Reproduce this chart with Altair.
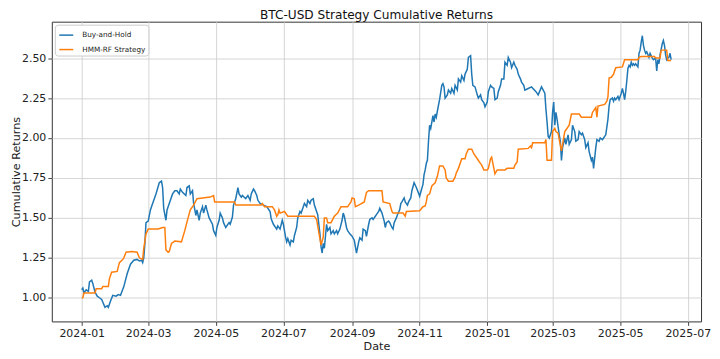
import altair as alt
import pandas as pd

bh_dates = [
    "2024-01-01","2024-01-02","2024-01-03","2024-01-05","2024-01-07","2024-01-08","2024-01-10","2024-01-11","2024-01-13","2024-01-15",
    "2024-01-17","2024-01-19","2024-01-22","2024-01-24","2024-01-25","2024-01-27","2024-01-29","2024-02-01","2024-02-03","2024-02-05",
    "2024-02-08","2024-02-11","2024-02-14","2024-02-17","2024-02-20","2024-02-22","2024-02-24","2024-02-25","2024-02-26","2024-02-27",
    "2024-02-28","2024-03-01","2024-03-03","2024-03-05","2024-03-08","2024-03-11","2024-03-13","2024-03-14","2024-03-15","2024-03-17",
    "2024-03-18","2024-03-20","2024-03-23","2024-03-25","2024-03-27","2024-03-29","2024-03-30","2024-04-01","2024-04-04","2024-04-05",
    "2024-04-07","2024-04-08","2024-04-10","2024-04-11","2024-04-13","2024-04-14","2024-04-16","2024-04-17","2024-04-19","2024-04-20",
    "2024-04-22","2024-04-23","2024-04-25","2024-04-28","2024-04-29","2024-05-01","2024-05-02","2024-05-04","2024-05-05","2024-05-07",
    "2024-05-08","2024-05-10","2024-05-13","2024-05-14","2024-05-16","2024-05-17","2024-05-19","2024-05-21","2024-05-22","2024-05-24",
    "2024-05-25","2024-05-28","2024-05-30","2024-06-01","2024-06-02","2024-06-04","2024-06-05","2024-06-07","2024-06-08","2024-06-10",
    "2024-06-13","2024-06-16","2024-06-19","2024-06-20","2024-06-22","2024-06-25","2024-06-26","2024-06-28","2024-06-30","2024-07-01",
    "2024-07-03","2024-07-04","2024-07-05","2024-07-07","2024-07-08","2024-07-10","2024-07-11","2024-07-13","2024-07-14","2024-07-16",
    "2024-07-17","2024-07-19","2024-07-20","2024-07-22","2024-07-23","2024-07-25","2024-07-26","2024-07-28","2024-07-29","2024-07-31",
    "2024-08-01","2024-08-03","2024-08-04","2024-08-05","2024-08-06","2024-08-07","2024-08-09","2024-08-10","2024-08-12","2024-08-13",
    "2024-08-15","2024-08-16","2024-08-18","2024-08-19","2024-08-21","2024-08-23","2024-08-24","2024-08-25","2024-08-27","2024-08-28",
    "2024-08-30","2024-09-01","2024-09-03","2024-09-05","2024-09-07","2024-09-08","2024-09-10","2024-09-11","2024-09-13","2024-09-14",
    "2024-09-16","2024-09-17","2024-09-19","2024-09-20","2024-09-22","2024-09-23","2024-09-25","2024-09-26","2024-09-28","2024-09-30",
    "2024-10-01","2024-10-02","2024-10-04","2024-10-05","2024-10-07","2024-10-08","2024-10-09","2024-10-11","2024-10-12","2024-10-14",
    "2024-10-15","2024-10-16","2024-10-18","2024-10-19","2024-10-21","2024-10-22","2024-10-24","2024-10-25","2024-10-27","2024-10-29",
    "2024-10-31","2024-11-01","2024-11-02","2024-11-04","2024-11-05","2024-11-06","2024-11-07","2024-11-08","2024-11-09","2024-11-10",
    "2024-11-11","2024-11-13","2024-11-14","2024-11-15","2024-11-16","2024-11-18","2024-11-19","2024-11-21","2024-11-22","2024-11-23",
    "2024-11-24","2024-11-26","2024-11-27","2024-11-29","2024-11-30","2024-12-02","2024-12-03","2024-12-05","2024-12-06","2024-12-08",
    "2024-12-09","2024-12-11","2024-12-12","2024-12-14","2024-12-15","2024-12-17","2024-12-18","2024-12-19","2024-12-21","2024-12-23",
    "2024-12-24","2024-12-26","2024-12-27","2024-12-29","2024-12-30","2025-01-01","2025-01-02","2025-01-04","2025-01-05","2025-01-07",
    "2025-01-08","2025-01-10","2025-01-11","2025-01-13","2025-01-14","2025-01-16","2025-01-17","2025-01-19","2025-01-20","2025-01-22",
    "2025-01-23","2025-01-25","2025-01-26","2025-01-28","2025-01-29","2025-01-31","2025-02-01","2025-02-03","2025-02-04","2025-02-07",
    "2025-02-10","2025-02-14","2025-02-16","2025-02-19","2025-02-22","2025-02-23","2025-02-24","2025-02-25","2025-02-26","2025-02-28",
    "2025-03-01","2025-03-02","2025-03-03","2025-03-04","2025-03-05","2025-03-07","2025-03-08","2025-03-09","2025-03-10","2025-03-12",
    "2025-03-13","2025-03-15","2025-03-16","2025-03-18","2025-03-19","2025-03-21","2025-03-22","2025-03-24","2025-03-25","2025-03-27",
    "2025-03-28","2025-03-30","2025-03-31","2025-04-02","2025-04-03","2025-04-05","2025-04-06","2025-04-07","2025-04-09","2025-04-10",
    "2025-04-12","2025-04-13","2025-04-15","2025-04-16","2025-04-18","2025-04-20","2025-04-21","2025-04-22","2025-04-24","2025-04-25",
    "2025-04-26","2025-04-27","2025-04-29","2025-04-30","2025-05-02","2025-05-03","2025-05-04","2025-05-05","2025-05-06","2025-05-07",
    "2025-05-08","2025-05-09","2025-05-10","2025-05-11","2025-05-12","2025-05-13","2025-05-14","2025-05-15","2025-05-17","2025-05-18",
    "2025-05-19","2025-05-20","2025-05-21","2025-05-22","2025-05-23","2025-05-24","2025-05-25","2025-05-27","2025-05-28","2025-05-30",
    "2025-05-31","2025-06-02","2025-06-03","2025-06-04","2025-06-05","2025-06-06","2025-06-08","2025-06-09","2025-06-10","2025-06-11",
    "2025-06-12","2025-06-13","2025-06-14","2025-06-15","2025-06-16",
]
bh_values = [
    1.05,1.06,1.03,1.05,1.04,1.10,1.11,1.09,1.035,1.01,
    1.00,0.99,0.94,0.95,0.94,0.98,1.015,1.01,1.02,1.015,
    1.07,1.15,1.21,1.235,1.24,1.23,1.235,1.22,1.25,1.34,
    1.47,1.48,1.55,1.59,1.65,1.72,1.73,1.69,1.56,1.485,
    1.55,1.59,1.65,1.67,1.67,1.65,1.68,1.66,1.64,1.69,
    1.70,1.65,1.67,1.59,1.515,1.55,1.485,1.53,1.57,1.53,
    1.58,1.55,1.50,1.46,1.42,1.39,1.44,1.485,1.53,1.50,
    1.47,1.44,1.47,1.46,1.505,1.58,1.62,1.69,1.65,1.63,
    1.64,1.62,1.64,1.61,1.65,1.68,1.67,1.64,1.61,1.59,
    1.58,1.57,1.54,1.495,1.46,1.43,1.45,1.43,1.485,1.46,
    1.38,1.35,1.37,1.33,1.36,1.35,1.39,1.44,1.50,1.54,
    1.53,1.57,1.59,1.57,1.61,1.59,1.61,1.62,1.58,1.54,
    1.52,1.40,1.32,1.28,1.34,1.31,1.46,1.42,1.44,1.40,
    1.42,1.40,1.42,1.40,1.43,1.485,1.53,1.51,1.44,1.42,
    1.40,1.385,1.36,1.28,1.35,1.375,1.36,1.43,1.42,1.385,
    1.46,1.49,1.50,1.49,1.51,1.52,1.54,1.56,1.53,1.48,
    1.44,1.47,1.48,1.47,1.44,1.43,1.47,1.50,1.52,1.55,
    1.59,1.60,1.625,1.60,1.58,1.60,1.625,1.67,1.72,1.69,
    1.655,1.635,1.66,1.71,1.77,1.80,1.84,1.86,1.98,2.08,
    2.06,2.14,2.10,2.15,2.13,2.205,2.24,2.33,2.34,2.32,
    2.25,2.27,2.30,2.28,2.31,2.28,2.33,2.30,2.37,2.35,
    2.39,2.36,2.40,2.43,2.505,2.515,2.40,2.33,2.32,2.27,
    2.25,2.27,2.24,2.22,2.195,2.225,2.29,2.33,2.32,2.31,
    2.24,2.25,2.29,2.33,2.37,2.37,2.475,2.455,2.505,2.475,
    2.44,2.475,2.455,2.43,2.40,2.37,2.35,2.33,2.30,2.31,
    2.32,2.29,2.27,2.32,2.28,2.18,2.10,2.01,2.00,2.04,
    2.16,2.225,2.08,2.16,2.12,2.02,1.98,1.86,1.94,2.00,
    1.96,2.02,1.96,1.99,2.08,2.04,1.98,1.99,2.04,2.02,
    2.03,1.99,1.94,1.97,1.915,1.86,1.88,1.81,1.94,1.99,
    1.98,2.00,1.99,2.00,2.02,2.12,2.20,2.24,2.25,2.23,
    2.25,2.24,2.26,2.24,2.28,2.31,2.28,2.24,2.29,2.36,
    2.435,2.455,2.445,2.475,2.455,2.465,2.455,2.465,2.445,2.53,
    2.55,2.60,2.64,2.58,2.55,2.53,2.54,2.505,2.53,2.50,
    2.49,2.50,2.42,2.49,2.465,2.52,2.59,2.61,2.58,2.52,
    2.49,2.50,2.505,2.53,2.49,
]

rf_dates = [
    "2024-01-01","2024-01-02","2024-01-03","2024-01-13","2024-01-14","2024-01-19","2024-01-20","2024-01-25","2024-01-26","2024-01-28",
    "2024-02-02","2024-02-04","2024-02-07","2024-02-08","2024-02-10","2024-02-15","2024-02-20","2024-02-22","2024-02-25","2024-02-26",
    "2024-02-28","2024-03-01","2024-03-10","2024-03-14","2024-03-16","2024-03-17","2024-03-19","2024-03-20","2024-03-22","2024-03-25",
    "2024-03-31","2024-04-03","2024-04-06","2024-04-08","2024-04-11","2024-04-14","2024-04-26","2024-04-29","2024-04-30","2024-05-18",
    "2024-05-19","2024-06-11","2024-06-12","2024-06-14","2024-06-21","2024-06-23","2024-06-25","2024-06-26","2024-06-27","2024-06-28",
    "2024-07-02","2024-07-05","2024-07-29","2024-07-31","2024-08-03","2024-08-04","2024-08-06","2024-08-07","2024-08-09","2024-08-10",
    "2024-08-13","2024-08-16","2024-08-19","2024-08-22","2024-08-28","2024-08-29","2024-08-31","2024-09-01","2024-09-03","2024-09-04",
    "2024-09-07","2024-09-12","2024-09-14","2024-09-16","2024-09-28","2024-09-29","2024-10-05","2024-10-07","2024-10-08","2024-10-17",
    "2024-10-19","2024-10-20","2024-11-01","2024-11-04","2024-11-06","2024-11-07","2024-11-08","2024-11-10","2024-11-12","2024-11-15",
    "2024-11-17","2024-11-19","2024-11-22","2024-11-24","2024-11-25","2024-11-27","2024-12-01","2024-12-03","2024-12-04","2024-12-06",
    "2024-12-09","2024-12-12","2024-12-13","2024-12-15","2024-12-18","2024-12-20","2024-12-23","2024-12-26","2024-12-27","2024-12-29",
    "2025-01-01","2025-01-02","2025-01-04","2025-01-05","2025-01-07","2025-01-08","2025-01-10","2025-01-17","2025-01-19","2025-01-25",
    "2025-01-26","2025-01-28","2025-01-29","2025-02-07","2025-02-09","2025-02-10","2025-02-11","2025-02-22","2025-02-23","2025-02-24",
    "2025-02-28","2025-03-01","2025-03-03","2025-03-04","2025-03-06","2025-03-07","2025-03-09","2025-03-10","2025-03-12","2025-03-13",
    "2025-03-16","2025-03-18","2025-03-25","2025-03-27","2025-04-05","2025-04-06","2025-04-09","2025-04-10","2025-04-11","2025-04-17",
    "2025-04-19","2025-04-20","2025-04-21","2025-04-23","2025-04-25","2025-04-27","2025-05-03","2025-05-05","2025-05-17","2025-05-18",
    "2025-05-20","2025-06-01","2025-06-02","2025-06-06","2025-06-07","2025-06-12","2025-06-13","2025-06-16",
]
rf_values = [
    1.00,1.00,1.03,1.03,1.056,1.056,1.07,1.07,1.12,1.16,
    1.165,1.22,1.24,1.25,1.285,1.29,1.285,1.25,1.24,1.31,
    1.40,1.43,1.43,1.44,1.44,1.30,1.285,1.29,1.34,1.355,
    1.35,1.42,1.50,1.55,1.58,1.62,1.63,1.64,1.60,1.60,
    1.58,1.58,1.59,1.57,1.57,1.55,1.51,1.52,1.55,1.53,
    1.54,1.51,1.51,1.49,1.37,1.33,1.38,1.50,1.50,1.47,
    1.47,1.51,1.53,1.57,1.57,1.58,1.60,1.625,1.62,1.57,
    1.58,1.60,1.66,1.67,1.67,1.60,1.59,1.54,1.53,1.53,
    1.51,1.54,1.545,1.57,1.575,1.60,1.64,1.65,1.70,1.72,
    1.76,1.825,1.825,1.80,1.75,1.73,1.73,1.755,1.78,1.81,
    1.87,1.87,1.90,1.93,1.93,1.90,1.87,1.84,1.83,1.80,
    1.80,1.81,1.87,1.88,1.81,1.775,1.80,1.80,1.81,1.81,
    1.83,1.85,1.93,1.935,1.95,1.94,1.97,1.97,1.99,1.86,
    1.86,2.04,2.06,2.04,2.03,1.99,1.92,1.96,2.04,2.05,
    2.08,2.15,2.15,2.13,2.13,2.16,2.19,2.13,2.20,2.21,
    2.23,2.26,2.375,2.38,2.40,2.44,2.445,2.49,2.49,2.505,
    2.51,2.51,2.50,2.50,2.55,2.55,2.485,2.485,
]

series_names = ["Buy-and-Hold", "HMM-RF Strategy"]
series_colors = ["#1f77b4", "#ff7f0e"]

y_ticks = [1.0, 1.25, 1.5, 1.75, 2.0, 2.25, 2.5]
x_tick_months = [(2024, 1), (2024, 3), (2024, 5), (2024, 7), (2024, 9), (2024, 11),
                 (2025, 1), (2025, 3), (2025, 5), (2025, 7)]

df = pd.concat([
    pd.DataFrame({"date": bh_dates, "value": bh_values, "series": series_names[0], "k": 0}),
    pd.DataFrame({"date": rf_dates, "value": rf_values, "series": series_names[1], "k": 1}),
], ignore_index=True)

font = "DejaVu Sans"

chart = alt.Chart(df).mark_line(strokeWidth=1.5, clip=True).encode(
    x=alt.X(
        "date:T",
        scale=alt.Scale(
            type="utc",
            domain=[alt.DateTime(year=2023, month=12, date=5, utc=True),
                    alt.DateTime(year=2025, month=7, date=13, utc=True)],
            nice=False,
        ),
        axis=alt.Axis(
            values=[alt.DateTime(year=y, month=m, date=1, utc=True) for y, m in x_tick_months],
            labelExpr="utcFormat(datum.value, '%Y-%m')",
            title="Date", labelFlush=False, titlePadding=2,
        ),
    ),
    y=alt.Y(
        "value:Q",
        scale=alt.Scale(domain=[0.852, 2.728], nice=False, zero=False),
        axis=alt.Axis(values=y_ticks, format=".2f", title="Cumulative Returns",
                      titlePadding=0),
    ),
    color=alt.Color(
        "series:N",
        scale=alt.Scale(domain=series_names, range=series_colors),
        legend=alt.Legend(
            title=None, orient="top-left", offset=3, padding=2.5,
            fillColor="white", strokeColor="#cccccc", cornerRadius=3,
            symbolType="stroke", symbolStrokeWidth=1.5, symbolSize=196, symbolOffset=1,
            labelFont=font, labelFontSize=7.3, labelColor="#222222",
            labelOffset=8, rowPadding=2.5,
        ),
    ),
    order=alt.Order("k:Q"),
).properties(
    width=652,
    height=301,
    title=alt.TitleParams("BTC-USD Strategy Cumulative Returns", dy=3),
    autosize=alt.AutoSizeParams(type="none"),
    padding={"left": 44, "top": 13, "right": 11, "bottom": 36},
).configure_view(
    stroke="#333333", strokeWidth=1,
).configure_axis(
    grid=True, gridColor="#d0d0d0", gridWidth=0.9,
    domain=False, tickColor="#333333", tickSize=4, tickWidth=0.9,
    labelFont=font, labelFontSize=11, labelColor="#222222", labelPadding=2,
    titleFont=font, titleFontSize=11.25, titleFontWeight="normal", titleColor="#222222",
).configure_title(
    font=font, fontSize=12.2, fontWeight="normal", color="#111111", anchor="middle", offset=0,
)

chart.save("out.html", embed_options={"renderer": "svg", "actions": False})
